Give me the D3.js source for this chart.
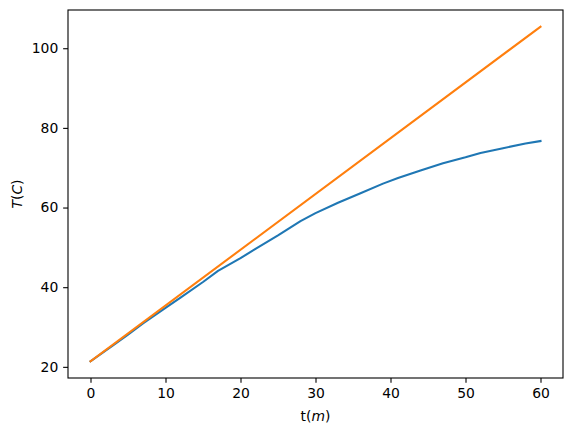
<!DOCTYPE html>
<html>
<head>
<meta charset="utf-8">
<script src="https://cdn.jsdelivr.net/npm/d3@7"></script>
<style>
  body { margin: 0; background: #fff; }
  text { font-family: "DejaVu Sans", sans-serif; }
</style>
</head>
<body>
<script>
var tMeasured = [0, 3, 5, 7, 10, 12, 15, 17, 20, 22, 25, 28, 30, 33, 36, 39, 41, 44, 47, 50, 52, 55, 58, 60];
var TMeasured = [21.4, 25.4, 28.1, 30.9, 34.8, 37.4, 41.3, 44.1, 47.3, 49.6, 53.0, 56.6, 58.6, 61.2, 63.6, 66.0, 67.4, 69.3, 71.1, 72.6, 73.7, 74.9, 76.1, 76.7];
// straight line (orange)
var tLinear = [0, 60];
var TLinear = [21.4, 105.4];

var xTicks = [0, 10, 20, 30, 40, 50, 60];
var yTicks = [20, 40, 60, 80, 100];

var W = 573, H = 434;
var margin = {top: 10, right: 10, bottom: 56, left: 68}; // axes box 68..563 x 10..378
var width = W - margin.left - margin.right,
    height = H - margin.top - margin.bottom;

var svg = d3.select("body").append("svg")
    .attr("width", W)
    .attr("height", H);

var g = svg.append("g")
    .attr("transform", "translate(" + margin.left + "," + margin.top + ")");

// matplotlib-style 5% margins around the data
var xMin = d3.min(tMeasured.concat(tLinear)), xMax = d3.max(tMeasured.concat(tLinear));
var yMin = d3.min(TMeasured.concat(TLinear)), yMax = d3.max(TMeasured.concat(TLinear));
var xPad = (xMax - xMin) * 0.05, yPad = (yMax - yMin) * 0.05;

var x = d3.scaleLinear().domain([xMin - xPad, xMax + xPad]).range([0, width]);
var y = d3.scaleLinear().domain([yMin - yPad, yMax + yPad]).range([height, 0]);

var line = d3.line()
    .x(function(d) { return x(d[0]); })
    .y(function(d) { return y(d[1]); });

var series = [
  {color: "#1f77b4", values: d3.zip(tMeasured, TMeasured)},
  {color: "#ff7f0e", values: d3.zip(tLinear, TLinear)}
];

g.selectAll(".line")
  .data(series)
  .enter().append("path")
    .attr("class", "line")
    .attr("fill", "none")
    .attr("stroke", function(d) { return d.color; })
    .attr("stroke-width", 2.08)
    .attr("stroke-linejoin", "round")
    .attr("stroke-linecap", "square")
    .attr("d", function(d) { return line(d.values); });

// axes
var xAxis = g.append("g")
    .attr("transform", "translate(0," + height + ")")
    .call(d3.axisBottom(x).tickValues(xTicks).tickSize(4.86).tickPadding(4.86).tickSizeOuter(0));
var yAxis = g.append("g")
    .call(d3.axisLeft(y).tickValues(yTicks).tickSize(4.86).tickPadding(4.86).tickSizeOuter(0));

[xAxis, yAxis].forEach(function(a) {
  a.select(".domain").remove();
  a.selectAll("line").attr("stroke", "#000").attr("stroke-width", 1.1);
  a.selectAll("text")
    .attr("fill", "#000")
    .style("font-size", "13.9px")
    .style("font-family", "'DejaVu Sans', sans-serif");
});

// frame
g.append("rect")
    .attr("width", width)
    .attr("height", height)
    .attr("fill", "none")
    .attr("stroke", "#000")
    .attr("stroke-width", 1.1);

// labels
var xl = svg.append("text")
    .attr("x", margin.left + width / 2)
    .attr("y", 421)
    .attr("text-anchor", "middle")
    .style("font-size", "13.9px");
xl.append("tspan").text("t(");
xl.append("tspan").style("font-style", "italic").text("m");
xl.append("tspan").text(")");

var yl = svg.append("text")
    .attr("transform", "translate(22," + (margin.top + height / 2) + ") rotate(-90)")
    .attr("text-anchor", "middle")
    .style("font-size", "13.9px");
yl.append("tspan").style("font-style", "italic").text("T");
yl.append("tspan").text("(");
yl.append("tspan").style("font-style", "italic").text("C");
yl.append("tspan").text(")");
</script>
</body>
</html>
